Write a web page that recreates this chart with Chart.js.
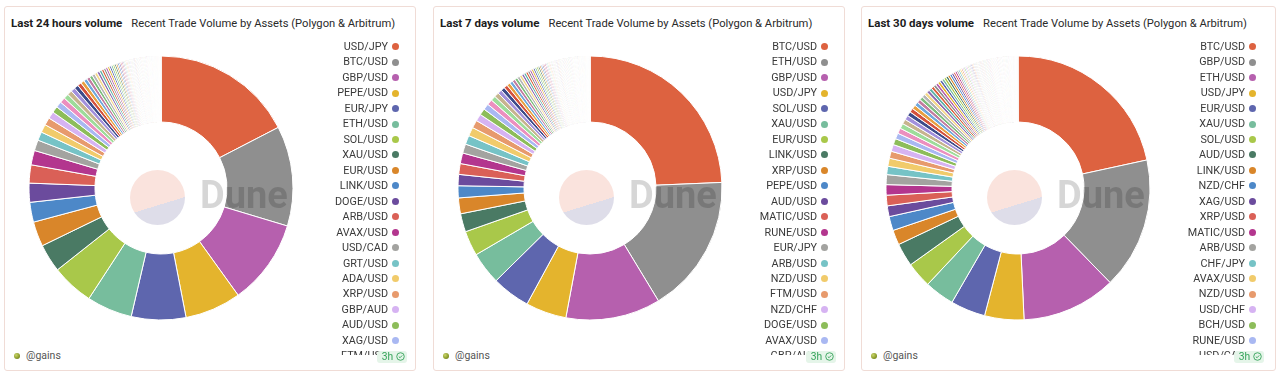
<!DOCTYPE html>
<html>
<head>
<meta charset="utf-8">
<script src="https://cdn.jsdelivr.net/npm/chart.js@4.4.0/dist/chart.umd.min.js"></script>
<style>
html,body{margin:0;padding:0;background:#fff;width:1280px;height:380px;overflow:hidden;font-family:Roboto,"Noto Sans",sans-serif;}
.panel{position:absolute;top:6px;height:365px;border:1px solid #f0dcd6;border-radius:3px;background:#fff;box-sizing:border-box;overflow:hidden;}
.hdr{position:absolute;left:6px;top:7px;height:16px;line-height:16px;white-space:nowrap;color:#1c1c1c;}
.hdr b{font-weight:700;font-size:11.5px;}
.hdr span{font-weight:400;font-size:11.2px;margin-left:9px;color:#2a2a2a;}
canvas.donut{position:absolute;left:21px;top:46px;}
.logo{position:absolute;left:124.5px;top:162.5px;width:55px;height:55px;border-radius:50%;
  background:linear-gradient(163deg,#fae3dd 0%,#fae3dd 61%,#dedde9 61%,#dedde9 100%);}
.wm{position:absolute;left:195px;top:169px;font-size:38px;line-height:38px;font-weight:700;color:rgba(0,0,0,0.16);white-space:nowrap;}
.legend{position:absolute;left:200px;top:31.96px;width:194px;height:316px;overflow:hidden;}
.li{height:15.47px;display:flex;justify-content:flex-end;align-items:center;}
.lt{font-size:10.8px;color:#3a3a3a;line-height:15.47px;white-space:nowrap;}
.ld{width:7px;height:7px;border-radius:50%;margin-left:4px;flex:none;}
.av{position:absolute;left:8.7px;top:345.5px;width:6px;height:6px;border-radius:50%;
  background:radial-gradient(circle at 35% 35%,#c9d66a 0%,#8a9a2a 60%,#5d6a1a 100%);}
.user{position:absolute;left:21px;top:341px;height:15px;line-height:15px;font-size:10.5px;color:#555;}
.badge{position:absolute;left:371.7px;top:343.5px;width:30.6px;height:12.8px;background:#e5f5e9;border-radius:3px;z-index:3;
  display:flex;align-items:center;font-size:10.3px;color:#35a35a;}
.badge span{margin-left:5px;line-height:12.8px;}
.badge svg{margin-left:3px;}
</style>
</head>
<body>
<div id="root"></div>
<script>
// ---------- data ----------
const titles = ["Last 24 hours volume", "Last 7 days volume", "Last 30 days volume"];
const subtitle = "Recent Trade Volume by Assets (Polygon & Arbitrum)";

const labels24h = ["USD/JPY","BTC/USD","GBP/USD","PEPE/USD","EUR/JPY","ETH/USD","SOL/USD","XAU/USD","EUR/USD","LINK/USD","DOGE/USD","ARB/USD","AVAX/USD","USD/CAD","GRT/USD","ADA/USD","XRP/USD","GBP/AUD","AUD/USD","XAG/USD","FTM/USD"];
const values24h = [17.2,12.1,10.3,6.8,6.6,5.5,5.1,3.4,3.0,2.4,2.3,2.2,1.75,1.3,1.04,0.98,0.92,0.85,0.78,0.72,0.66,
  0.61,0.57,0.53,0.5,0.47,0.44,0.41,0.39,0.37,0.35,0.33,0.31,0.29,0.27,0.26,0.25,0.24,0.23,0.22,0.21,0.2,0.19,0.18,0.17,0.16,0.15,0.15,0.14,0.14,
  0.13,0.13,0.12,0.12,0.11,0.11,0.1,0.1,0.1,0.09,0.09,0.09,0.08,0.08,0.08,0.08,0.07,0.07,0.07,0.07,
  0.06,0.06,0.06,0.06,0.06,0.06,0.06,0.06,0.06,0.06,0.05,0.05,0.05,0.05,0.05,0.05,0.05,0.05,0.05,0.05,
  0.04,0.04,0.04,0.04,0.04,0.04,0.04,0.04,0.04,0.04,0.03,0.03,0.03,0.03,0.03,0.03,0.03,0.03,0.03,0.03,
  0.03,0.03,0.03,0.03,0.03,0.03,0.03,0.03,0.03,0.03,0.02,0.02,0.02,0.02,0.02,0.02,0.02,0.02,0.02,0.02];

const labels7d = ["BTC/USD","ETH/USD","GBP/USD","USD/JPY","SOL/USD","XAU/USD","EUR/USD","LINK/USD","XRP/USD","PEPE/USD","AUD/USD","MATIC/USD","RUNE/USD","EUR/JPY","ARB/USD","NZD/USD","FTM/USD","NZD/CHF","DOGE/USD","AVAX/USD","GBP/AUD"];
const values7d = [23.9,16.7,11.4,4.9,4.6,3.9,3.0,2.2,1.9,1.45,1.35,1.3,1.28,1.1,1.08,1.05,0.95,0.85,0.78,0.72,0.66,
  0.6,0.55,0.5,0.47,0.44,0.41,0.38,0.36,0.34,0.32,0.3,0.28,0.27,0.26,0.25,0.24,0.23,0.22,0.21,0.2,
  0.19,0.18,0.17,0.16,0.15,0.15,0.14,0.14,0.13,0.13,0.12,0.12,0.11,0.11,
  0.1,0.1,0.1,0.1,0.1,0.1,0.09,0.09,0.09,0.09,0.09,0.09,0.08,0.08,0.08,0.08,0.08,0.08,0.08,0.08,
  0.07,0.07,0.07,0.07,0.07,0.07,0.07,0.07,0.06,0.06,0.06,0.06,0.06,0.06,0.06,0.06,0.06,0.06,
  0.05,0.05,0.05,0.05,0.05,0.05,0.05,0.05,0.05,0.05,0.04,0.04,0.04,0.04,0.04,0.04,0.04,0.04,0.04,0.04,
  0.03,0.03,0.03,0.03,0.03,0.03,0.03,0.03,0.03,0.03,0.02,0.02,0.02,0.02,0.02,0.02,0.02,0.02,0.02,0.02];

const labels30d = ["BTC/USD","GBP/USD","ETH/USD","USD/JPY","EUR/USD","XAU/USD","SOL/USD","AUD/USD","LINK/USD","NZD/CHF","XAG/USD","XRP/USD","MATIC/USD","ARB/USD","CHF/JPY","AVAX/USD","NZD/USD","USD/CHF","BCH/USD","RUNE/USD","USD/CAD"];
const values30d = [21.3,15.9,11.4,4.75,4.2,3.6,3.1,2.8,1.8,1.7,1.3,1.28,1.26,1.2,1.0,0.98,0.85,0.83,0.75,0.7,0.66,
  0.62,0.58,0.55,0.52,0.5,0.48,0.46,0.44,0.42,0.4,0.38,0.36,0.35,0.34,0.33,0.32,0.31,0.3,0.29,0.28,
  0.27,0.26,0.25,0.24,0.23,0.22,0.21,0.2,0.19,0.18,0.17,0.16,0.16,0.15,0.15,0.14,0.14,0.13,0.13,0.12,
  0.12,0.11,0.11,0.1,0.1,
  0.1,0.1,0.1,0.1,0.1,0.1,0.1,0.1,0.09,0.09,0.09,0.09,0.09,0.09,0.09,0.09,
  0.08,0.08,0.08,0.08,0.08,0.08,0.08,0.08,0.08,0.08,0.07,0.07,0.07,0.07,0.07,0.07,0.07,0.07,0.07,0.07,
  0.06,0.06,0.06,0.06,0.06,0.06,0.06,0.06,0.06,0.06,0.05,0.05,0.05,0.05,0.05,0.05,0.05,0.05,0.05,0.05,
  0.04,0.04,0.04,0.04,0.04,0.04,0.04,0.04,0.04,0.04,0.03,0.03,0.03,0.03,0.03,0.03,0.03,0.03,0.03,0.03];

// remaining (unlisted in the visible legend) pairs, used for the small tail slices
const otherPairs = ["UNI/USD","AAVE/USD","DOT/USD","LTC/USD","BNB/USD","ATOM/USD","NEAR/USD","APE/USD","SAND/USD","MANA/USD","AXS/USD","CRV/USD","SUSHI/USD","YFI/USD","COMP/USD","MKR/USD","SNX/USD","1INCH/USD","EOS/USD","XTZ/USD","TRX/USD","ALGO/USD","XLM/USD","ETC/USD","VET/USD","FIL/USD","ICP/USD","APT/USD","OP/USD","SUI/USD","LDO/USD","INJ/USD","TIA/USD","SEI/USD","WLD/USD","BONK/USD","JUP/USD","PYTH/USD","STX/USD","IMX/USD","RNDR/USD","GMX/USD","DYDX/USD","BLUR/USD","SHIB/USD","FET/USD","AGIX/USD","KAS/USD","ORDI/USD","TON/USD","HBAR/USD","ENS/USD","FLOKI/USD","WIF/USD","ENA/USD","MEME/USD","CHZ/USD","KAVA/USD","CAKE/USD","MATIC/USD","BCH/USD","RUNE/USD","GRT/USD","ADA/USD","FTM/USD","DOGE/USD","AVAX/USD","PEPE/USD","XRP/USD",
  "GBP/JPY","EUR/GBP","EUR/CHF","AUD/JPY","CAD/JPY","CHF/JPY","NZD/JPY","GBP/CHF","EUR/AUD","GBP/AUD","AUD/NZD","NZD/CHF","EUR/CAD","GBP/CAD","AUD/CAD","EUR/NZD","GBP/NZD","AUD/CHF","CAD/CHF","NZD/CAD","USD/CHF","NZD/USD","USD/CAD","AUD/USD","EUR/JPY","USD/CNH","USD/MXN","USD/SGD","USD/INR","USD/KRW","USD/BRL","USD/ZAR","USD/TRY","USD/SEK","USD/NOK","USD/DKK","USD/HKD","USD/PLN","USD/TWD","USD/IDR","USD/PHP",
  "XAG/USD","WTI/USD","XPT/USD","XPD/USD","NG/USD","HG/USD",
  "SPY/USD","QQQ/USD","AAPL/USD","TSLA/USD","NVDA/USD","AMZN/USD","MSFT/USD","META/USD","GOOGL/USD","COIN/USD","NFLX/USD","AMD/USD","DIA/USD","IWM/USD","BABA/USD","ARB/USD","LINK/USD","SOL/USD","ETH/USD","XAU/USD"];

const palette = ["#dd6240","#8f8f8f","#b660ae","#e4b42d","#5e66ae","#77bd9d","#a9c84a","#4a7a64","#d9862a","#4d88c8",
  "#6b4b9d","#da6057","#b3368e","#a3a3a0","#76c3c6","#f1cb6b","#e79a6d","#d6b3f2","#8dbd5a","#a9b8f2",
  "#ec8fbf","#9edc9a","#c7b48e","#a290dc","#3d4b8a","#d4513d","#e8a040","#6fa8dc","#c27ba0","#7fbf7f",
  "#b5b5b5","#f4d88a","#8c6bb1","#5fb3a8"];

const panelsX = [4, 433, 861];
const panelsW = [412, 412, 415];

// ---------- build ----------
function fullLabels(top, values) {
  const rest = otherPairs.filter((p, i) => !top.includes(p) && otherPairs.indexOf(p) === i);
  return top.concat(rest).slice(0, values.length);
}

const sets = [[labels24h, values24h], [labels7d, values7d], [labels30d, values30d]];
const root = document.getElementById('root');

sets.forEach(([top, values], k) => {
  const labels = fullLabels(top, values);
  const p = document.createElement('div');
  p.className = 'panel';
  p.style.left = panelsX[k] + 'px';
  p.style.width = panelsW[k] + 'px';

  const hdr = document.createElement('div');
  hdr.className = 'hdr';
  const b = document.createElement('b'); b.textContent = titles[k];
  const s = document.createElement('span'); s.textContent = subtitle;
  hdr.appendChild(b); hdr.appendChild(s);
  p.appendChild(hdr);

  const cv = document.createElement('canvas');
  cv.className = 'donut'; cv.width = 270; cv.height = 270;
  p.appendChild(cv);

  const logo = document.createElement('div'); logo.className = 'logo'; p.appendChild(logo);
  const wm = document.createElement('div'); wm.className = 'wm'; wm.textContent = 'Dune'; p.appendChild(wm);

  const lg = document.createElement('div'); lg.className = 'legend';
  labels.slice(0, 22).forEach((name, i) => {
    const li = document.createElement('div'); li.className = 'li';
    const t = document.createElement('span'); t.className = 'lt'; t.textContent = name;
    const d = document.createElement('span'); d.className = 'ld'; d.style.background = palette[i % palette.length];
    li.appendChild(t); li.appendChild(d); lg.appendChild(li);
  });
  p.appendChild(lg);

  const av = document.createElement('div'); av.className = 'av'; p.appendChild(av);
  const u = document.createElement('div'); u.className = 'user'; u.textContent = '@gains'; p.appendChild(u);
  const bd = document.createElement('div'); bd.className = 'badge';
  bd.innerHTML = '<span>3h</span><svg width="9" height="9" viewBox="0 0 10 10"><circle cx="5" cy="5" r="4.2" fill="none" stroke="#35a35a" stroke-width="1"/><path d="M3.1 5.1 L4.5 6.4 L6.9 3.8" fill="none" stroke="#35a35a" stroke-width="1"/></svg>';
  p.appendChild(bd);

  root.appendChild(p);

  new Chart(cv, {
    type: 'doughnut',
    data: {
      labels: labels,
      datasets: [{
        data: values,
        backgroundColor: labels.map((_, i) => palette[i % palette.length]),
        borderColor: '#ffffff',
        borderWidth: 1,
        hoverOffset: 0,
        radius: 132,
        cutout: '50%'
      }]
    },
    options: {
      responsive: false,
      animation: false,
      radius: 132,
      cutout: '50%',
      layout: { padding: 0 },
      plugins: { legend: { display: false }, tooltip: { enabled: false } }
    }
  });
});
</script>
</body>
</html>
